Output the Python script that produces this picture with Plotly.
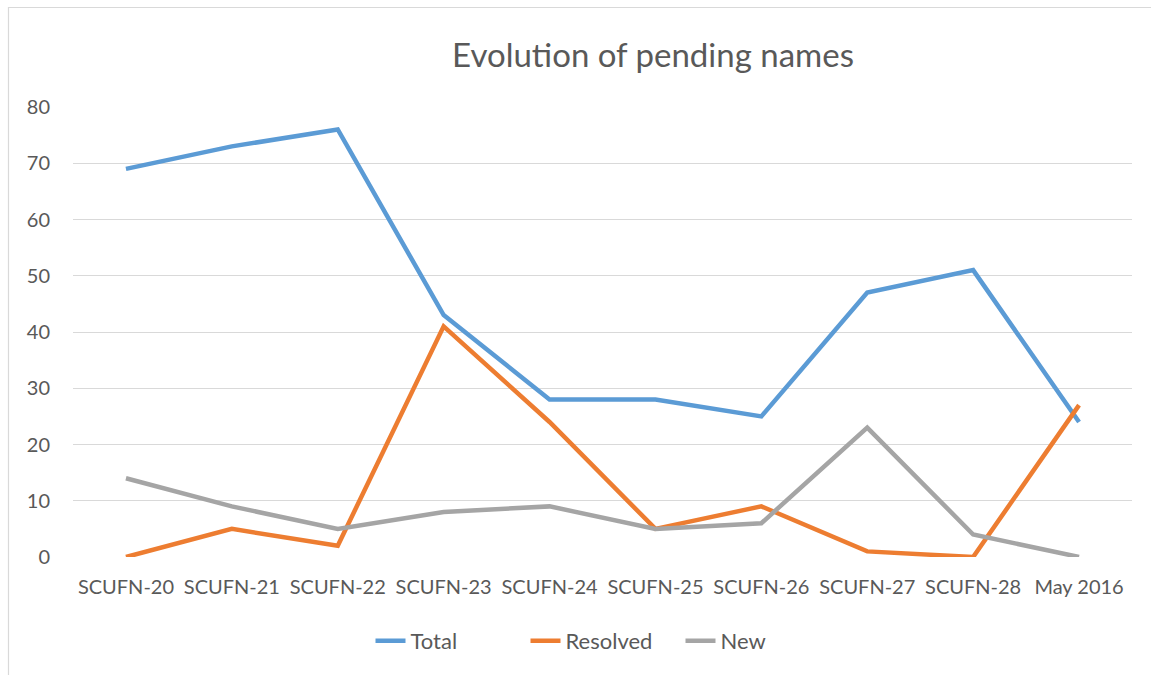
import plotly.graph_objects as go

categories = ["SCUFN-20", "SCUFN-21", "SCUFN-22", "SCUFN-23", "SCUFN-24",
              "SCUFN-25", "SCUFN-26", "SCUFN-27", "SCUFN-28", "May 2016"]
total = [69, 73, 76, 43, 28, 28, 25, 47, 51, 24]
resolved = [0, 5, 2, 41, 24, 5, 9, 1, 0, 27]
new = [14, 9, 5, 8, 9, 5, 6, 23, 4, 0]

series = [("Total", total, "#5B9BD5"),
          ("Resolved", resolved, "#ED7D31"),
          ("New", new, "#A5A5A5")]

FONT = "Lato"
TXT = "#595959"

fig = go.Figure()
for name, vals, col in series:
    fig.add_trace(go.Scatter(x=categories, y=vals, name=name, mode="lines",
                             line=dict(color=col, width=4.5, shape="linear"),
                             cliponaxis=False))

W, H = 1151, 675
L, R, T, B = 73, 19, 107, 118
pw = W - L - R
ph = H - T - B

def px_x(p):
    return (p - L) / pw

def px_y(p):
    return (H - B - p) / ph

fig.update_layout(
    width=W, height=H,
    margin=dict(l=L, r=R, t=T, b=B),
    paper_bgcolor="white", plot_bgcolor="white",
    font=dict(family=FONT, color=TXT, size=20),
    title=dict(text="Evolution of pending names", font=dict(size=33, color=TXT, family=FONT),
               x=px_x(653), xref="paper", xanchor="center",
               y=1 - 55 / H, yref="container", yanchor="middle"),
    xaxis=dict(type="category", range=[-0.5, 9.5], showgrid=False, zeroline=False,
               showline=False, ticks="", ticklabelstandoff=16,
               tickfont=dict(size=20, color=TXT, family=FONT)),
    yaxis=dict(range=[0, 80], dtick=10, showgrid=True, gridcolor="#D9D9D9", gridwidth=1,
               zeroline=False, showline=False, ticks="", ticklabelstandoff=22,
               tickfont=dict(size=20, color=TXT, family=FONT)),
    legend=dict(orientation="h", x=px_x(603), xanchor="center", y=px_y(641), yanchor="middle",
                font=dict(size=22, color=TXT, family=FONT), itemwidth=30,
                entrywidth=110, entrywidthmode="pixels",
                bgcolor="rgba(0,0,0,0)"),
    showlegend=True,
)

# chart frame (Excel-style border)
fig.add_shape(type="rect", xref="paper", yref="paper",
              x0=px_x(8.5), x1=px_x(W + 20), y0=px_y(H + 20), y1=px_y(7.5),
              line=dict(color="#D9D9D9", width=1.2), fillcolor="rgba(0,0,0,0)", layer="below")

fig.write_html("out.html", config={"displayModeBar": False},
               post_script="document.body.style.margin='0';document.body.style.padding='0';")
